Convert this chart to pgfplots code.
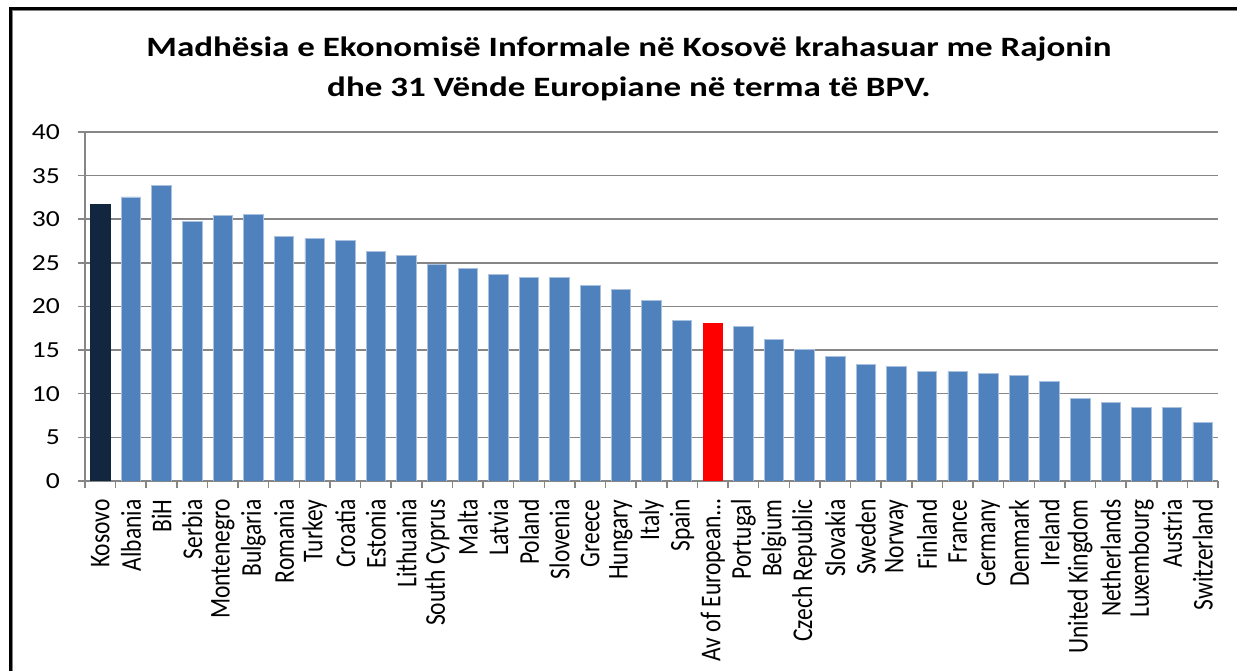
\documentclass[border=0pt]{standalone}
\usepackage{fontspec}
\setmainfont{Carlito}
\usepackage{pgfplots}
\usepackage{pgfplotstable}
\pgfplotsset{compat=1.18}
\definecolor{barblue}{HTML}{4F81BD}
\definecolor{baredge}{HTML}{A9C0DE}
\definecolor{kosnavy}{HTML}{12263F}
\definecolor{gridgray}{HTML}{868686}

\pgfplotstableread{
x y
1 32.55
2 33.85
3 29.75
4 30.4
5 30.6
6 28.05
7 27.8
8 27.6
9 26.3
10 25.9
11 24.8
12 24.35
13 23.7
14 23.3
15 23.3
16 22.4
17 22.0
18 20.7
19 18.35
21 17.7
22 16.2
23 15.1
24 14.25
25 13.35
26 13.15
27 12.55
28 12.55
29 12.3
30 12.1
31 11.4
32 9.5
33 9.05
34 8.45
35 8.45
36 6.7
}\others

\begin{document}
\begin{tikzpicture}
\useasboundingbox (0pt,0pt) rectangle (1237pt,671pt);
\draw[line width=3pt, black] (10.5pt,-5pt) -- (10.5pt,662.5pt) -- (1245pt,662.5pt);
\draw[line width=1pt, gray] (12.5pt,-5pt) -- (12.5pt,660.5pt) -- (1245pt,660.5pt);
\node[font=\bfseries\fontsize{28}{40}\selectfont, align=center, xscale=1.25] at (629pt,602pt) {Madhësia e Ekonomisë Informale në Kosovë krahasuar me Rajonin\\dhe 31 Vënde Europiane në terma të BPV.};
\begin{axis}[
  at={(85pt,190pt)}, anchor=south west,
  width=1133pt, height=349pt, scale only axis,
  xmin=-0.5, xmax=36.5, ymin=0, ymax=40,
  ytick={0,5,...,40},
  xtick={-0.5,0.5,...,36.5},
  xticklabels={Kosovo,Albania,BiH,Serbia,Montenegro,Bulgaria,Romania,Turkey,Croatia,Estonia,Lithuania,South Cyprus,Malta,Latvia,Poland,Slovenia,Greece,Hungary,Italy,Spain,Av of European…,Portugal,Belgium,Czech Republic,Slovakia,Sweden,Norway,Finland,France,Germany,Denmark,Ireland,United Kingdom,Netherlands,Luxembourg,Austria,Switzerland,{}},
  axis x line*=bottom, axis y line*=left,
  axis line style={-, gridgray, line width=1.5pt},
  ymajorgrids, grid style={gridgray, line width=1.5pt},
  tick align=outside, major tick length=7pt,
  tick style={gridgray, line width=1.5pt},
  /pgf/number format/assume math mode=true,
  yticklabel style={font=\fontsize{23}{23}\selectfont, xshift=-14pt, xscale=1.2},
  xticklabel style={font=\fontsize{23.5}{23.5}\selectfont, xshift=15.3pt, yshift=-8pt, xscale=1.22, rotate=90, anchor=east},
]
\addplot[ybar, bar width=19.5pt, bar shift=0pt, fill=barblue, draw=baredge, line width=0.8pt] table[x=x,y=y] {\others};
\addplot[ybar, bar width=19.5pt, bar shift=0pt, fill=kosnavy, draw=kosnavy] coordinates {(0,31.75)};
\addplot[ybar, bar width=19.5pt, bar shift=0pt, fill=red, draw=red] coordinates {(20,18.1)};
\end{axis}
\end{tikzpicture}
\end{document}
